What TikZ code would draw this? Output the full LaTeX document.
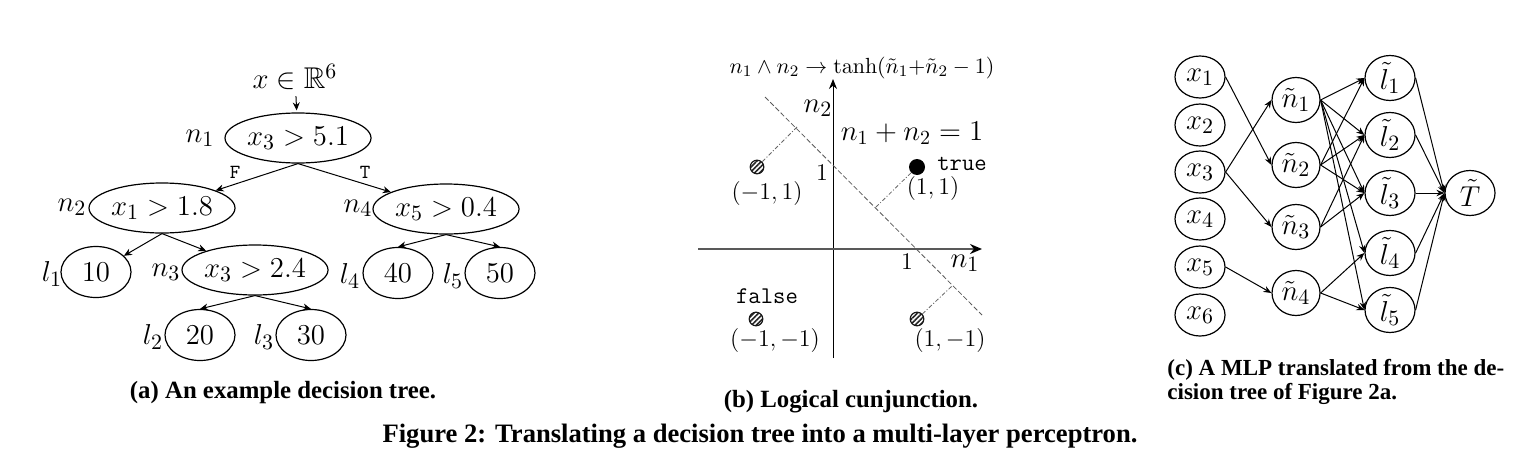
\documentclass[tikz,border=0pt]{standalone}
\usepackage{amsmath,amssymb}
\usepackage[no-math]{fontspec}
\newfontfamily\capfont{Liberation Serif}
\usetikzlibrary{shapes.geometric,arrows.meta,patterns.meta}
\begin{document}
\begin{tikzpicture}[x=0.5pt,y=-0.5pt,
  bigtxt/.style={font=\fontsize{15}{17}\selectfont},
  midtxt/.style={inner sep=0pt,font=\fontsize{11.5}{13}\selectfont},
  tnode/.style={ellipse,draw,line width=0.6pt,inner sep=0pt,minimum width=73pt,minimum height=25pt,bigtxt},
  leaf/.style={ellipse,draw,line width=0.6pt,inner sep=0pt,minimum width=35pt,minimum height=25.5pt,bigtxt},
  lab/.style={inner sep=0pt,bigtxt},
  ttxt/.style={inner sep=0pt,font=\ttfamily\fontsize{10}{12}\selectfont},
  tarr/.style={-{Stealth[length=4pt,width=3.5pt]},line width=0.5pt},
  mnode/.style={ellipse,draw,line width=0.6pt,inner sep=0pt,minimum width=25pt,minimum height=21pt,bigtxt},
  hnode/.style={ellipse,draw,line width=0.6pt,inner sep=0pt,minimum width=24pt,minimum height=22.5pt,bigtxt},
  lnode/.style={ellipse,draw,line width=0.6pt,inner sep=0pt,minimum width=25pt,minimum height=22.5pt,bigtxt},
  marr/.style={-{Stealth[length=4pt,width=3.2pt]},line width=0.5pt},
  hatch/.style={circle,draw=black!90,line width=0.6pt,inner sep=0pt,minimum size=6.8pt,
    pattern={Lines[angle=45,distance=1.7pt,line width=0.8pt]},pattern color=black!85},
  perp/.style={draw=black!60,line width=0.4pt,dash pattern=on 2pt off 1pt on 0.5pt off 1pt},
  captext/.style={inner sep=0pt,font=\capfont\bfseries\fontsize{12.4}{15}\selectfont}
]
\useasboundingbox (0,0) rectangle (1518,466);

% ---------- (a) decision tree ----------
\node[lab] (xin) at (295,77) {$x \in \mathbb{R}^6$};
\node[tnode] (n1) at (298,138) {$x_3 > 5.1$};
\node[tnode] (n2) at (162,208) {$x_1 > 1.8$};
\node[tnode] (n4) at (446,209) {$x_5 > 0.4$};
\node[tnode] (n3) at (255,270) {$x_3 > 2.4$};
\node[leaf] (l1) at (96,272) {$10$};
\node[leaf] (l4) at (398,273) {$40$};
\node[leaf] (l5) at (500,273) {$50$};
\node[leaf] (l2) at (200,335) {$20$};
\node[leaf] (l3) at (311,335) {$30$};

\node[lab] (tn1) at (200,138) {$n_1$};
\node[lab] (tn2) at (72,207) {$n_2$};
\node[lab] (tn4) at (358,208) {$n_4$};
\node[lab] (tn3) at (166,272) {$n_3$};
\node[lab] (tl1) at (52,274) {$l_1$};
\node[lab] (tl4) at (350,276) {$l_4$};
\node[lab] (tl5) at (453,276) {$l_5$};
\node[lab] (tl2) at (153,337) {$l_2$};
\node[lab] (tl3) at (264,337) {$l_3$};

\draw[tarr,shorten <=3pt,shorten >=1pt] (xin) -- (n1);
\draw[tarr] (n1.south) -- (n2);
\draw[tarr] (n1.south) -- (n4);
\draw[tarr] (n2.south) -- (l1);
\draw[tarr] (n2.south) -- (n3);
\draw[tarr] (n4.south) -- (l4.north);
\draw[tarr] (n4.south) -- (l5.north);
\draw[tarr] (n3.south) -- (l2.north);
\draw[tarr] (n3.south) -- (l3.north);
\node[ttxt] (fl) at (235,172) {F};
\node[ttxt] (tl) at (365,172) {T};

% ---------- (b) logical conjunction ----------
\coordinate (yb) at (833,358);
\coordinate (yt) at (833,79);
\coordinate (xl) at (698,249);
\coordinate (xr) at (982,249);
\draw[line width=0.5pt,-{Stealth[length=5pt,width=4pt]}] (yb) -- (yt);
\draw[draw=black!65,line width=1pt,-{Stealth[length=6pt,width=5pt,color=black]}] (xl) -- (xr);
\coordinate (da) at (765,97);
\coordinate (db) at (982,315);
\draw[draw=black!65,line width=0.4pt,dash pattern=on 2.5pt off 1.2pt] (da) -- (db);

\node[circle,fill=black,inner sep=0pt,minimum size=8pt] (p11) at (917,167) {};
\node[hatch] (pm11) at (757,167) {};
\node[hatch] (pmm) at (756,319) {};
\node[hatch] (p1m) at (917,319) {};
\coordinate (f11) at (876,207);
\coordinate (fm11) at (797,127);
\coordinate (f1m) at (952,286);
\draw[perp] (p11) -- (f11);
\draw[perp] (pm11) -- (fm11);
\draw[perp] (p1m) -- (f1m);

\node[inner sep=0pt,font=\fontsize{11}{13}\selectfont] (title) at (862,68) {$n_1 \wedge n_2 \rightarrow \tanh(\tilde{n}_1 {+} \tilde{n}_2 - 1)$};
\node[lab] (an2) at (818,108) {$n_2$};
\node[lab] (an1) at (965,263) {$n_1$};
\node[midtxt,font=\fontsize{13}{15}\selectfont] (one1) at (822,173) {$1$};
\node[midtxt,font=\fontsize{13}{15}\selectfont] (one2) at (907,262) {$1$};
\node[inner sep=0pt,font=\fontsize{14}{16}\selectfont] (eq) at (912,133) {$n_1 + n_2 = 1$};
\node[ttxt,font=\ttfamily\fontsize{12}{14}\selectfont] (true) at (962,164) {true};
\node[ttxt,font=\ttfamily\fontsize{12}{14}\selectfont] (false) at (767,296) {false};
\node[midtxt] (cm11) at (767,193) {$(-1,1)$};
\node[midtxt] (c11) at (933,188) {$(1,1)$};
\node[midtxt] (cmm) at (775,340) {$(-1,-1)$};
\node[midtxt] (c1m) at (950,340) {$(1,-1)$};

% ---------- (c) MLP ----------
\node[mnode] (x1) at (1200,77) {$x_1$};
\node[mnode] (x2) at (1200,125) {$x_2$};
\node[mnode] (x3) at (1200,172) {$x_3$};
\node[mnode] (x4) at (1200,219) {$x_4$};
\node[mnode] (x5) at (1200,267) {$x_5$};
\node[mnode] (x6) at (1200,315) {$x_6$};
\node[hnode] (h1) at (1296,100) {$\tilde{n}_1$};
\node[hnode] (h2) at (1296,165) {$\tilde{n}_2$};
\node[hnode] (h3) at (1296,227) {$\tilde{n}_3$};
\node[hnode] (h4) at (1296,293) {$\tilde{n}_4$};
\node[lnode] (o1) at (1390,78) {$\tilde{l}_1$};
\node[lnode] (o2) at (1390,135) {$\tilde{l}_2$};
\node[lnode] (o3) at (1390,193) {$\tilde{l}_3$};
\node[lnode] (o4) at (1390,253) {$\tilde{l}_4$};
\node[lnode] (o5) at (1390,310) {$\tilde{l}_5$};
\node[lnode] (T) at (1470,193) {$\tilde{T}$};

\draw[marr] (x1.east) -- (h2.west);
\draw[marr] (x3.east) -- (h1.west);
\draw[marr] (x3.east) -- (h3.west);
\draw[marr] (x5.east) -- (h4.west);
\foreach \o in {o1,o2,o3,o4,o5} \draw[marr] (h1.east) -- (\o.west);
\foreach \o in {o1,o2,o3} \draw[marr] (h2.east) -- (\o.west);
\foreach \o in {o2,o3} \draw[marr] (h3.east) -- (\o.west);
\foreach \o in {o4,o5} \draw[marr] (h4.east) -- (\o.west);
\foreach \o in {o1,o2,o3,o4,o5} \draw[marr] (\o.east) -- (T.west);

% ---------- captions ----------
\node[captext] (capa) at (283,393) {(a) An example decision tree.};
\node[captext] (capb) at (851,402) {(b) Logical cunjunction.};
\node[captext,font=\capfont\bfseries\fontsize{11.5}{14}\selectfont,anchor=west] (capc1) at (1167,370) {(c) A MLP translated from the de-};
\node[captext,font=\capfont\bfseries\fontsize{11.5}{14}\selectfont,anchor=west] (capc2) at (1167,394) {cision tree of Figure 2a.};
\node[captext,font=\capfont\bfseries\fontsize{13.3}{15}\selectfont] (capf) at (760,436) {Figure 2: Translating a decision tree into a multi-layer perceptron.};
\end{tikzpicture}
\end{document}
